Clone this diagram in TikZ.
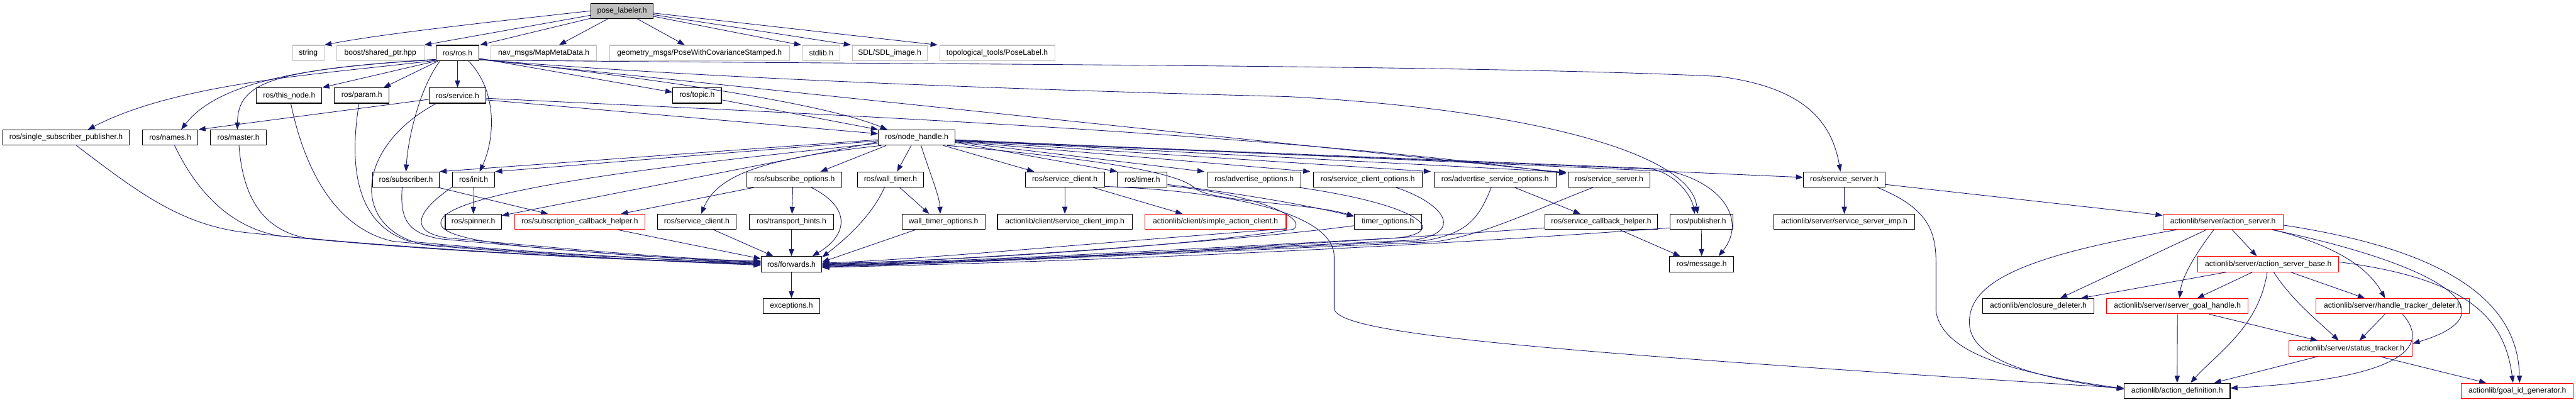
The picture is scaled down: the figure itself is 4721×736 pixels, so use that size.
\documentclass[tikz,border=0pt]{standalone}
\usepackage{fontspec}
\setmainfont{Liberation Sans}
\usetikzlibrary{arrows.meta,calc}
\definecolor{edgec}{HTML}{191970}
\definecolor{extgray}{HTML}{BFBFBF}
\definecolor{topfill}{HTML}{BFBFBF}
\begin{document}
\begin{tikzpicture}[x=1pt,y=-1pt,
  box/.style={rectangle, minimum height=28pt, inner xsep=3pt, inner ysep=2pt, font=\fontsize{14}{16}\selectfont, line width=1.2pt},
  std/.style={box, draw=black},
  ext/.style={box, draw=extgray},
  redn/.style={box, draw=red},
  topn/.style={box, draw=black, fill=topfill},
  e/.style={draw=edgec, line width=1pt, -{Triangle[length=13pt,width=9.5pt]}}
]
\fill[white] (0,0) rectangle (4721,736);
\useasboundingbox (0,0) rectangle (4721,736);

% row A/B
\node[topn, minimum width=114.5pt] (pose) at (1140,20) {pose\_labeler.h};
\node[ext, minimum width=58pt] (string) at (565,97) {string};
\node[ext, minimum width=160pt] (boost) at (697,97) {boost/shared\_ptr.hpp};
\node[std, minimum width=79pt] (ros) at (838.5,97) {ros/ros.h};
\node[ext, minimum width=193pt] (nav) at (996.5,97) {nav\_msgs/MapMetaData.h};
\node[ext, minimum width=330pt] (geom) at (1282,97) {geometry\_msgs/PoseWithCovarianceStamped.h};
\node[ext, minimum width=68pt] (stdlib) at (1505,97) {stdlib.h};
\node[ext, minimum width=137pt] (sdl) at (1630.5,97) {SDL/SDL\_image.h};
\node[ext, minimum width=211pt] (topo) at (1827.5,97) {topological\_tools/PoseLabel.h};
% row C
\node[std, minimum width=120pt] (thisnode) at (530,175) {ros/this\_node.h};
\node[std, minimum width=100pt] (param) at (663,175) {ros/param.h};
\node[std, minimum width=103pt] (service) at (838.5,175) {ros/service.h};
\node[std, minimum width=89pt] (topic) at (1277.5,175) {ros/topic.h};
% row D
\node[std, minimum width=232pt] (ssp) at (121,252) {ros/single\_subscriber\_publisher.h};
\node[std, minimum width=102pt] (names) at (312,252) {ros/names.h};
\node[std, minimum width=102pt] (master) at (437,252) {ros/master.h};
\node[std, minimum width=140.5pt] (nh) at (1680,252) {ros/node\_handle.h};
% row E
\node[std, minimum width=122pt] (subscriber) at (744,329) {ros/subscriber.h};
\node[std, minimum width=77.5pt] (init) at (868,329) {ros/init.h};
\node[std, minimum width=174pt] (subopt) at (1456,329) {ros/subscribe\_options.h};
\node[std, minimum width=122pt] (walltimer) at (1632,329) {ros/wall\_timer.h};
\node[std, minimum width=145pt] (sc1) at (1951.5,329) {ros/service\_client.h};
\node[std, minimum width=91pt] (timer) at (2093.5,329) {ros/timer.h};
\node[std, minimum width=171pt] (advopt) at (2298.5,329) {ros/advertise\_options.h};
\node[std, minimum width=199pt] (scopt) at (2506.5,329) {ros/service\_client\_options.h};
\node[std, minimum width=224pt] (asopt) at (2740,329) {ros/advertise\_service\_options.h};
\node[std, minimum width=150pt] (ss1) at (2949,329) {ros/service\_server.h};
\node[std, minimum width=150pt] (ss2) at (3380,329) {ros/service\_server.h};
% row F
\node[std, minimum width=103pt] (spinner) at (867.5,406.5) {ros/spinner.h};
\node[redn, minimum width=239pt] (sch) at (1062.5,406.5) {ros/subscription\_callback\_helper.h};
\node[std, minimum width=144pt] (sc0) at (1277,406.5) {ros/service\_client.h};
\node[std, minimum width=155pt] (hints) at (1450.5,406.5) {ros/transport\_hints.h};
\node[std, minimum width=152pt] (wto) at (1729,406.5) {wall\_timer\_options.h};
\node[std, minimum width=247pt] (scimp) at (1951.5,406.5) {actionlib/client/service\_client\_imp.h};
\node[redn, minimum width=259pt] (sac) at (2227.5,406.5) {actionlib/client/simple\_action\_client.h};
\node[std, minimum width=123pt] (topt) at (2543.5,406.5) {timer\_options.h};
\node[std, minimum width=207pt] (svcb) at (2934.5,406.5) {ros/service\_callback\_helper.h};
\node[std, minimum width=115pt] (pub) at (3118,406.5) {ros/publisher.h};
\node[std, minimum width=258pt] (ssimp) at (3380,406.5) {actionlib/server/service\_server\_imp.h};
\node[redn, minimum width=220pt] (as) at (4074,406.5) {actionlib/server/action\_server.h};
% row G
\node[std, minimum width=111pt] (fwd) at (1450.5,484) {ros/forwards.h};
\node[std, minimum width=117pt] (msg) at (3118.5,484) {ros/message.h};
\node[redn, minimum width=258pt] (asb) at (4157,484) {actionlib/server/action\_server\_base.h};
% row H
\node[std, minimum width=103pt] (exc) at (1450.5,561) {exceptions.h};
\node[std, minimum width=205pt] (encl) at (3735.5,561) {actionlib/enclosure\_deleter.h};
\node[redn, minimum width=259pt] (sgh) at (3990.5,561) {actionlib/server/server\_goal\_handle.h};
\node[redn, minimum width=281pt] (htd) at (4385,561) {actionlib/server/handle\_tracker\_deleter.h};
% row I/J
\node[redn, minimum width=226pt] (st) at (4308,638.5) {actionlib/server/status\_tracker.h};
\node[std, minimum width=194pt] (ad) at (3990,716) {actionlib/action\_definition.h};
\node[redn, minimum width=205pt] (gid) at (4613.5,716) {actionlib/goal\_id\_generator.h};

% ---- pose_labeler
\draw[e] (pose.west) .. controls (900,40) and (700,62) .. (string.north east);
\draw[e] ($(pose.west)+(0,8)$) -- (boost.north east);
\draw[e] ($(pose.south west)+(0,-1)$) -- ($(ros.north east)+(1,0)$);
\draw[e] ($(pose.south)+(-26,0)$) -- ($(nav.north)+(28,0)$);
\draw[e] ($(pose.south)+(28,0)$) -- ($(geom.north)+(-27,0)$);
\draw[e] ($(pose.east)+(0,10)$) .. controls (1300,50) and (1400,70) .. ($(stdlib.north west)+(-2,0)$);
\draw[e] ($(pose.east)+(0,7)$) -- ($(sdl.north west)+(-2,0)$);
\draw[e] ($(pose.east)+(0,4)$) -- ($(topo.north west)+(-3,0)$);

% ---- ros.h
\draw[e] ($(ros.south west)+(1,-1)$) .. controls (600,135) and (330,150) .. ($(ssp.north)+(40,0)$);
\draw[e] ($(ros.south west)+(1,-2)$) .. controls (560,122) and (400,150) .. ($(names.north)+(20,0)$);
\draw[e] ($(ros.south west)+(1,-3)$) .. controls (500,128) and (436,150) .. ($(master.north)+(-2,0)$);
\draw[e] ($(ros.south west)+(2,0)$) -- (thisnode.north east);
\draw[e] ($(ros.south west)+(5,0)$) -- ($(param.north)+(40,0)$);
\draw[e] ($(ros.south west)+(8,0)$) .. controls (770,160) and (748,250) .. (subscriber.north);
\draw[e] (ros.south) -- (service.north);
\draw[e] ($(ros.south)+(20,0)$) .. controls (915,170) and (905,260) .. ($(init.north)+(11,0)$);
\draw[e] ($(ros.east)+(0,10)$) -- ($(topic.west)+(0,-6)$);
\draw[e] ($(ros.east)+(0,11)$) .. controls (1150,138) and (1500,185) .. ($(nh.north west)+(17,0)$);
\draw[e] ($(ros.east)+(0,12)$) -- ($(ss1.north west)+(-3,2)$);
\draw[e] ($(ros.east)+(0,12)$) .. controls (1300,145) and (1900,165) .. (2360,177) .. controls (2800,200) and (3100,280) .. ($(pub.north)+(-7,0)$);
\draw[e] ($(ros.east)+(0,13)$) .. controls (1600,118) and (2700,118) .. (3150,140) .. controls (3290,158) and (3355,210) .. ($(ss2.north)+(-7,0)$);

% ---- service.h / topic.h
\draw[e] ($(service.west)+(0,7)$) -- (names.north east);
\draw[e] ($(service.east)+(0,8)$) -- ($(nh.west)+(0,-7)$);
\draw[e] ($(service.east)+(0,5)$) .. controls (1400,205) and (2300,240) .. ($(ss1.north west)+(-3,4)$);
\draw[e] ($(service.south west)+(13,0)$) .. controls (650,270) and (640,420) .. (780,449) .. controls (1000,468) and (1250,480) .. ($(fwd.west)+(0,2)$);
\draw[e] ($(topic.east)+(0,8)$) -- (nh.north west);

% ---- into forwards from the left
\draw[e] ($(ssp.south)+(19,0)$) .. controls (250,350) and (330,412) .. (450,426) .. controls (800,462) and (1200,478) .. ($(fwd.west)+(0,-1)$);
\draw[e] ($(names.south)+(8,0)$) .. controls (360,350) and (420,415) .. (510,432) .. controls (800,462) and (1200,478) .. (fwd.west);
\draw[e] ($(master.south)+(1,0)$) .. controls (445,360) and (480,420) .. (560,436) .. controls (800,462) and (1200,478) .. ($(fwd.west)+(0,1)$);
\draw[e] ($(thisnode.south)+(3,0)$) .. controls (560,320) and (620,420) .. (720,442) .. controls (900,460) and (1200,476) .. ($(fwd.west)+(0,-2)$);
\draw[e] ($(param.south)+(-5,0)$) .. controls (640,300) and (650,410) .. (750,442) .. controls (900,458) and (1200,476) .. ($(fwd.west)+(0,-3)$);
\draw[e] ($(subscriber.south)+(-7,0)$) .. controls (733,400) and (745,428) .. (810,438) .. controls (1000,455) and (1200,474) .. ($(fwd.west)+(0,-4)$);
\draw[e] ($(init.south west)+(0,-1)$) .. controls (760,390) and (750,425) .. (820,436) .. controls (1000,452) and (1200,472) .. ($(fwd.west)+(0,-5)$);
\draw[e] ($(nh.south west)+(0,-4)$) .. controls (1300,295) and (880,340) .. (815,395) .. controls (785,425) and (850,442) .. (1000,455) .. controls (1150,468) and (1300,478) .. ($(fwd.west)+(0,-6)$);
\draw[e] ($(sch.south)+(70,0)$) -- ($(fwd.west)+(0,-10)$);
\draw[e] ($(sc0.south)+(31,0)$) -- ($(fwd.north west)+(23,0)$);
\draw[e] (hints.south) -- (fwd.north);
\draw[e] ($(subopt.south)+(31,0)$) .. controls (1560,380) and (1555,430) .. ($(fwd.north)+(38,0)$);
\draw[e] ($(walltimer.south)+(-11,0)$) .. controls (1600,390) and (1560,430) .. ($(fwd.north east)+(0,2)$);

% ---- into forwards from the right
\draw[e] ($(wto.south west)+(25,0)$) -- ($(fwd.east)+(0,-4)$);
\draw[e] ($(sac.south east)+(0,-2)$) .. controls (2000,445) and (1700,475) .. ($(fwd.east)+(0,-2)$);
\draw[e] ($(timer.south east)+(0,-3)$) .. controls (2300,355) and (2400,400) .. (2370,420) .. controls (2200,448) and (1800,476) .. ($(fwd.east)+(0,-1)$);
\draw[e] ($(topt.west)+(0,7)$) .. controls (2300,438) and (1800,476) .. (fwd.east);
\draw[e] ($(advopt.south east)+(-3,0)$) .. controls (2600,375) and (2660,425) .. (2560,436) .. controls (2200,455) and (1800,478) .. ($(fwd.east)+(0,1)$);
\draw[e] ($(scopt.south)+(52,0)$) .. controls (2640,370) and (2690,425) .. (2590,440) .. controls (2200,458) and (1800,479) .. ($(fwd.east)+(0,2)$);
\draw[e] ($(asopt.south)+(-7,0)$) .. controls (2710,400) and (2690,428) .. (2610,441) .. controls (2200,460) and (1800,480) .. ($(fwd.east)+(0,3)$);
\draw[e] ($(ss1.south)+(-30,0)$) .. controls (2800,390) and (2720,430) .. (2630,443) .. controls (2200,462) and (1800,481) .. ($(fwd.east)+(0,4)$);
\draw[e] ($(svcb.west)+(0,11)$) .. controls (2300,455) and (1800,481) .. ($(fwd.east)+(0,5)$);
\draw[e] ($(pub.west)+(0,11)$) .. controls (2400,466) and (1800,483) .. ($(fwd.east)+(0,6)$);
\draw[e] (fwd.south) -- (exc.north);

% ---- node_handle.h
\draw[e] ($(nh.west)+(0,4)$) -- (subscriber.north east);
\draw[e] ($(nh.west)+(0,6)$) -- (init.north east);
\draw[e] ($(nh.west)+(0,8)$) -- ($(spinner.north east)+(0,3)$);
\draw[e] ($(nh.south west)+(6,0)$) .. controls (1400,290) and (1315,320) .. ($(sc0.north)+(8,0)$);
\draw[e] ($(nh.south west)+(15,0)$) -- ($(subopt.north east)+(-40,0)$);
\draw[e] ($(nh.south)+(-10,0)$) -- ($(walltimer.north)+(12,0)$);
\draw[e] ($(nh.south)+(8,0)$) .. controls (1705,320) and (1722,360) .. ($(wto.north)+(-6,0)$);
\draw[e] ($(nh.south east)+(-22,0)$) -- ($(sc1.north west)+(17,0)$);
\draw[e] ($(nh.east)+(0,9)$) -- (timer.north west);
\draw[e] ($(nh.east)+(0,8)$) -- ($(advopt.north west)+(-5,0)$);
\draw[e] ($(nh.east)+(0,7)$) -- ($(scopt.north west)+(-5,0)$);
\draw[e] ($(nh.east)+(0,6)$) -- ($(asopt.north west)+(-5,0)$);
\draw[e] ($(nh.east)+(0,5)$) -- ($(ss1.north west)+(-3,1)$);
\draw[e] ($(nh.east)+(0,4)$) -- ($(ss2.west)+(0,-4)$);
\draw[e] ($(nh.east)+(0,6)$) -- (3030,310) .. controls (3075,322) and (3100,360) .. ($(pub.north)+(-12,0)$);
\draw[e] ($(nh.east)+(0,5)$) -- (3035,309) .. controls (3150,325) and (3205,400) .. ($(msg.north east)+(-28,0)$);
\draw[e] ($(nh.south east)+(-15,0)$) .. controls (2000,290) and (2160,315) .. (2190,345) .. controls (2220,370) and (2400,372) .. ($(topt.north west)+(0,4)$);

% ---- row E / F
\draw[e] ($(subscriber.south east)+(-2,0)$) -- ($(sch.north)+(-58,0)$);
\draw[e] ($(subopt.south west)+(13,0)$) -- ($(sch.north east)+(-45,0)$);
\draw[e] ($(subopt.south)+(-3,0)$) -- ($(hints.north)+(1,0)$);
\draw[e] (init.south) -- (spinner.north);
\draw[e] ($(walltimer.south)+(17,0)$) -- ($(wto.north)+(-26,0)$);
\draw[e] (sc1.south) -- (scimp.north);
\draw[e] ($(sc1.south)+(52,0)$) -- ($(sac.north)+(-60,0)$);
\draw[e] ($(sc1.south east)+(0,-2)$) .. controls (2250,350) and (2445,390) .. (2445,470) -- (2445,565) .. controls (2450,612) and (2800,642) .. ($(ad.west)+(0,-5)$);
\draw[e] ($(timer.east)+(0,9)$) .. controls (2250,352) and (2380,372) .. ($(topt.west)+(0,-10)$);
\draw[e] ($(asopt.south)+(36,0)$) -- ($(svcb.north)+(-38,0)$);
\draw[e] ($(svcb.south)+(34,0)$) -- ($(msg.north west)+(20,0)$);
\draw[e] (pub.south) -- (msg.north);
\draw[e] (ss2.south) -- (ssimp.north);
\draw[e] ($(ss2.east)+(0,9)$) -- ($(as.west)+(0,-12)$);
\draw[e] ($(ss2.south)+(61,0)$) .. controls (3530,380) and (3548,420) .. (3548,480) -- (3548,570) .. controls (3560,650) and (3700,685) .. ($(ad.west)+(0,-4)$);

% ---- actionlib server
\draw[e] ($(as.south west)+(80,0)$) -- ($(encl.north east)+(-63,0)$);
\draw[e] ($(as.south west)+(25,0)$) .. controls (3700,470) and (3600,520) .. (3610,600) .. controls (3620,665) and (3750,695) .. ($(ad.west)+(0,-3)$);
\draw[e] ($(as.south)+(17,0)$) -- ($(asb.north)+(-21,0)$);
\draw[e] ($(as.south)+(-17,0)$) .. controls (4020,470) and (3998,510) .. ($(sgh.north)+(4,0)$);
\draw[e] ($(as.south)+(93,0)$) .. controls (4280,450) and (4340,490) .. ($(htd.north)+(-14,0)$);
\draw[e] ($(as.south east)+(-20,0)$) .. controls (4450,480) and (4620,570) .. ($(st.east)+(0,-9)$);
\draw[e] ($(as.east)+(0,6)$) .. controls (4500,460) and (4615,560) .. ($(gid.north)+(4,0)$);
\draw[e] ($(asb.south west)+(53,0)$) -- ($(encl.north east)+(-25,0)$);
\draw[e] ($(asb.south)+(-29,0)$) -- ($(sgh.north east)+(-94,0)$);
\draw[e] ($(asb.south)+(-2,0)$) .. controls (4140,600) and (4060,650) .. ($(ad.north east)+(-73,0)$);
\draw[e] ($(asb.south)+(10,0)$) .. controls (4200,550) and (4250,590) .. ($(st.north)+(-22,0)$);
\draw[e] ($(asb.south)+(41,0)$) -- ($(htd.north)+(-51,0)$);
\draw[e] ($(asb.east)+(0,-4)$) .. controls (4520,510) and (4590,580) .. ($(gid.north)+(-8,0)$);
\draw[e] (sgh.south) -- (ad.north);
\draw[e] ($(sgh.south)+(58,0)$) -- ($(st.north west)+(53,0)$);
\draw[e] ($(htd.south)+(-14,0)$) -- ($(st.north)+(16,0)$);
\draw[e] ($(htd.south)+(18,0)$) .. controls (4460,640) and (4390,695) .. ($(ad.east)+(0,-5)$);
\draw[e] ($(st.south)+(-60,0)$) -- ($(ad.north east)+(-30,0)$);
\draw[e] ($(st.south)+(53,0)$) -- ($(gid.north west)+(46,0)$);
\end{tikzpicture}
\end{document}
